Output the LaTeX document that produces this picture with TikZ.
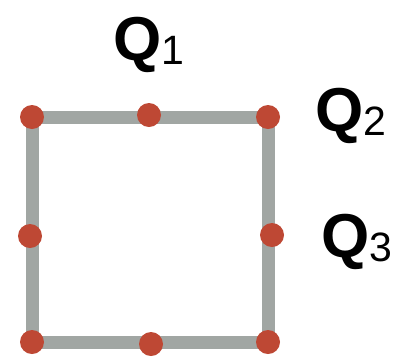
\documentclass[tikz,border=0pt]{standalone}
\usepackage{fontspec}
\setmainfont{Liberation Sans}
\usepackage{tikz}
\usetikzlibrary{positioning,calc,backgrounds}
\definecolor{edgegray}{RGB}{161,166,163}
\definecolor{dotred}{RGB}{190,72,52}
\tikzset{
  edgeline/.style={draw=edgegray, line width=13pt, line cap=butt, line join=miter},
  dotnode/.style={circle, fill=dotred, draw=none, minimum size=24pt, inner sep=0pt},
  qlabel/.style={anchor=base west, inner sep=0pt, font=\fontsize{62}{62}\selectfont}
}
\newcommand{\qsym}[1]{{\bfseries Q}\raisebox{-4pt}{\fontsize{41}{41}\selectfont #1}}

\begin{document}
\begin{tikzpicture}[x=1pt, y=-1pt]
  \useasboundingbox (0,0) rectangle (393,357);

  % corner and midpoint dots
  \node[dotnode] (p1) at (32,117)  {};
  \node[dotnode] (p2) at (149,115) {};
  \node[dotnode] (p3) at (268,117) {};
  \node[dotnode] (p4) at (30,236)  {};
  \node[dotnode] (p5) at (272,235) {};
  \node[dotnode] (p6) at (32,342)  {};
  \node[dotnode] (p7) at (151,344) {};
  \node[dotnode] (p8) at (268,342) {};

  % square frame behind the dots
  \begin{scope}[on background layer]
    \draw[edgeline] (p1.center) -- (p3.center) -- (p8.center) -- (p6.center) -- cycle;
  \end{scope}

  % labels
  \node[qlabel] (q1) at (113,60)  {\qsym{1}};
  \node[qlabel] (q2) at (315,131) {\qsym{2}};
  \node[qlabel] (q3) at (321,257) {\qsym{3}};
\end{tikzpicture}
\end{document}
